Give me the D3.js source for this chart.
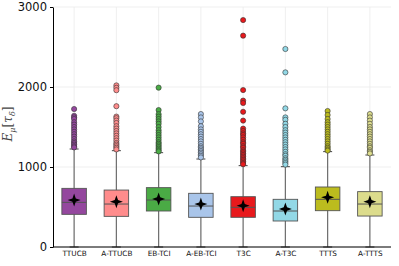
<!DOCTYPE html>
<html>
<head>
<meta charset="utf-8">
<script src="https://cdn.jsdelivr.net/npm/d3@7"></script>
<style>
  body { margin: 0; background: #fff; }
  svg { display: block; }
</style>
</head>
<body>
<div class="chart"></div>
<script>
// box plot values
var categories = ["TTUCB", "A-TTUCB", "EB-TCI", "A-EB-TCI", "T3C", "A-T3C", "TTTS", "A-TTTS"];
var colors = ["#94479e", "#ff8c8c", "#4aab45", "#a9c5ea", "#e8191c", "#92d8e6", "#bcbc1e", "#dcdc8c"];
var q1 = [408, 383, 450, 371, 371, 325, 454, 387];
var medians = [558, 537, 587, 512, 496, 450, 596, 537];
var q3 = [733, 712, 742, 671, 629, 596, 750, 692];
var means = [587, 566, 600, 537, 517, 475, 621, 566];
var whiskerLow = [0, 0, 0, 0, 0, 0, 0, 0];
var whiskerHigh = [1225, 1204, 1179, 1100, 1017, 1004, 1192, 1150];
var outliers = [
  [1725, 1640, 1620, 1600, 1560, 1530, 1500, 1470, 1440, 1410, 1380, 1350, 1320, 1300, 1280, 1260, 1245],
  [2020, 1990, 1960, 1760, 1630, 1610, 1580, 1550, 1510, 1480, 1450, 1420, 1390, 1360, 1330, 1300, 1280, 1260, 1240, 1220],
  [1992, 1712, 1660, 1630, 1600, 1570, 1540, 1500, 1460, 1430, 1400, 1370, 1340, 1310, 1290, 1270, 1250, 1230, 1210, 1195],
  [1662, 1620, 1570, 1510, 1470, 1440, 1410, 1380, 1350, 1320, 1290, 1260, 1240, 1220, 1200, 1180, 1160, 1140, 1120],
  [2837, 2642, 1962, 1830, 1800, 1690, 1580, 1480, 1450, 1420, 1400, 1370, 1340, 1310, 1290, 1260, 1240, 1210, 1190, 1170, 1150, 1130, 1110, 1090, 1070, 1050, 1035],
  [2475, 2183, 1733, 1620, 1590, 1540, 1500, 1460, 1430, 1400, 1370, 1340, 1310, 1280, 1250, 1220, 1190, 1160, 1140, 1110, 1090, 1070, 1050, 1030],
  [1700, 1650, 1600, 1560, 1530, 1500, 1470, 1440, 1410, 1380, 1350, 1320, 1290, 1260, 1240, 1220, 1205],
  [1662, 1620, 1580, 1540, 1500, 1470, 1440, 1410, 1380, 1350, 1320, 1290, 1260, 1240, 1210, 1190, 1170]
];
var yTicks = [0, 1000, 2000, 3000];

var width = 399, height = 266;
var margin = { top: 7, right: 8, bottom: 19, left: 53 };

var svg = d3.select(".chart").append("svg")
  .attr("width", width)
  .attr("height", height);

var x = d3.scalePoint()
  .domain(categories)
  .range([margin.left, width - margin.right])
  .padding(0.5);

var y = d3.scaleLinear()
  .domain([0, 3000])
  .range([height - margin.bottom, margin.top]);

var boxW = x.step() * 0.58;

// grid
svg.append("g").selectAll("line")
  .data(yTicks)
  .enter().append("line")
  .attr("x1", margin.left).attr("x2", width - margin.right)
  .attr("y1", function(d) { return y(d); })
  .attr("y2", function(d) { return y(d); })
  .attr("stroke", "#ebebeb").attr("stroke-width", 0.8);

svg.append("g").selectAll("line")
  .data(categories)
  .enter().append("line")
  .attr("x1", function(d) { return x(d); })
  .attr("x2", function(d) { return x(d); })
  .attr("y1", margin.top).attr("y2", height - margin.bottom)
  .attr("stroke", "#ebebeb").attr("stroke-width", 0.8);

// one group per box
var rows = categories.map(function(c, i) {
  return { name: c, color: colors[i], q1: q1[i], med: medians[i], q3: q3[i],
    mean: means[i], lo: whiskerLow[i], hi: whiskerHigh[i], out: outliers[i] };
});

var g = svg.append("g").selectAll("g")
  .data(rows)
  .enter().append("g");

// whisker
g.append("line")
  .attr("x1", function(d) { return x(d.name); })
  .attr("x2", function(d) { return x(d.name); })
  .attr("y1", function(d) { return y(d.lo); })
  .attr("y2", function(d) { return y(d.hi); })
  .attr("stroke", "#6e6e6e").attr("stroke-width", 1.2);

// caps
["lo", "hi"].forEach(function(k) {
  g.append("line")
    .attr("x1", function(d) { return x(d.name) - 4.5; })
    .attr("x2", function(d) { return x(d.name) + 4.5; })
    .attr("y1", function(d) { return y(d[k]); })
    .attr("y2", function(d) { return y(d[k]); })
    .attr("stroke", "#444").attr("stroke-width", 1);
});

// outliers
g.selectAll("circle")
  .data(function(d) { return d.out.map(function(v) { return { v: v, name: d.name, color: d.color }; }); })
  .enter().append("circle")
  .attr("cx", function(d) { return x(d.name); })
  .attr("cy", function(d) { return y(d.v); })
  .attr("r", 2.6)
  .attr("fill", function(d) { return d.color; })
  .attr("stroke", "#333")
  .attr("stroke-width", 0.6);

// box
g.append("rect")
  .attr("x", function(d) { return x(d.name) - boxW / 2; })
  .attr("y", function(d) { return y(d.q3); })
  .attr("width", boxW)
  .attr("height", function(d) { return y(d.q1) - y(d.q3); })
  .attr("fill", function(d) { return d.color; })
  .attr("stroke", "#555")
  .attr("stroke-width", 0.9);

// median
g.append("line")
  .attr("x1", function(d) { return x(d.name) - boxW / 2; })
  .attr("x2", function(d) { return x(d.name) + boxW / 2; })
  .attr("y1", function(d) { return y(d.med); })
  .attr("y2", function(d) { return y(d.med); })
  .attr("stroke", "#555").attr("stroke-width", 1);

// mean marker: four pointed star
function star4(r, k) {
  var p = [];
  for (var i = 0; i < 8; i++) {
    var a = i * Math.PI / 4 - Math.PI / 2;
    var rr = i % 2 === 0 ? r : r * k;
    p.push([Math.cos(a) * rr, Math.sin(a) * rr]);
  }
  return "M" + p.map(function(q) { return q.join(","); }).join("L") + "Z";
}
g.append("path")
  .attr("d", star4(6.5, 0.36))
  .attr("transform", function(d) { return "translate(" + x(d.name) + "," + y(d.mean) + ")"; })
  .attr("fill", "#000");

// axes
var yAxis = svg.append("g")
  .attr("transform", "translate(" + margin.left + ",0)")
  .call(d3.axisLeft(y).tickValues(yTicks).tickFormat(d3.format("d")).tickSize(3).tickSizeOuter(0).tickPadding(3));
yAxis.selectAll("text").attr("font-family", "DejaVu Sans").attr("font-size", "11.5px").attr("fill", "#111");

var xAxis = svg.append("g")
  .attr("transform", "translate(0," + (height - margin.bottom) + ")")
  .call(d3.axisBottom(x).tickSize(0).tickSizeOuter(0).tickPadding(4));
xAxis.select(".domain").attr("d", "M" + margin.left + ",0H" + (width - margin.right));
xAxis.selectAll("text").attr("font-family", "DejaVu Sans").attr("font-size", "7.3px").attr("fill", "#111");

// y label
var lab = svg.append("text")
  .attr("transform", "translate(12,124) rotate(-90)")
  .attr("text-anchor", "middle")
  .attr("font-family", "DejaVu Serif")
  .attr("font-size", "12px")
  .attr("fill", "#444");
lab.append("tspan").attr("font-style", "italic").text("E");
lab.append("tspan").attr("font-style", "italic").attr("font-size", "8px").attr("dy", 2.5).text("μ");
lab.append("tspan").attr("dy", -2.5).text("[");
lab.append("tspan").attr("font-style", "italic").text("τ");
lab.append("tspan").attr("font-style", "italic").attr("font-size", "8px").attr("dy", 2.5).text("δ");
lab.append("tspan").attr("dy", -2.5).text("]");
</script>
</body>
</html>
